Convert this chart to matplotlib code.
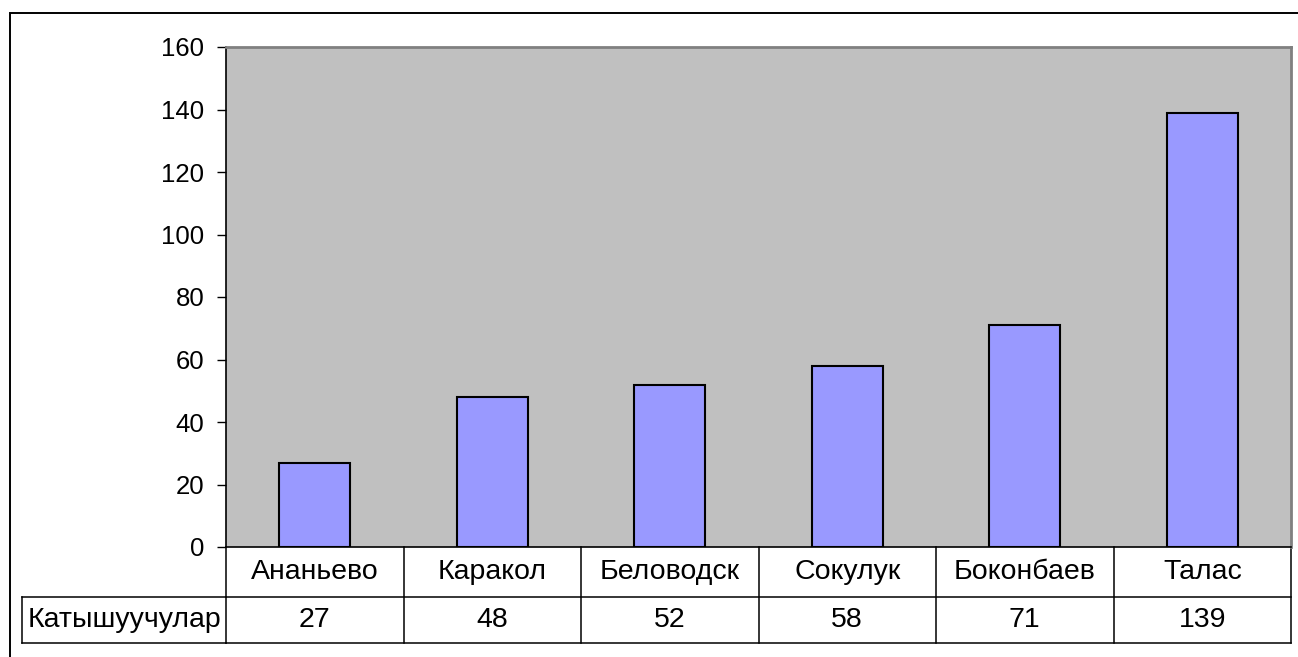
import numpy as np
import matplotlib
matplotlib.use('Agg')
from matplotlib import pyplot as plt
from matplotlib.patches import Rectangle
import matplotlib.transforms as mtransforms

plt.rcParams['font.family'] = ['Liberation Sans', 'DejaVu Sans']

towns = ['Ананьево', 'Каракол', 'Беловодск', 'Сокулук', 'Боконбаев', 'Талас']
participants = [27, 48, 52, 58, 71, 139]
series_name = 'Катышуучулар'

W, H = 1298, 657
fig = plt.figure(figsize=(W / 100, H / 100), dpi=100)

# outer chart border
fig.patches.append(Rectangle((10 / W, -0.05), 1.1, 1 - 13 / H + 0.05,
                             transform=fig.transFigure, fill=False,
                             edgecolor='black', linewidth=1.4))

ax = fig.add_axes([226 / W, 1 - 547 / H, 1065 / W, 500 / H])
ax.set_facecolor('#C0C0C0')

x = np.arange(len(towns))
ax.bar(x, participants, width=0.4, color='#9999FF', edgecolor='black', linewidth=1.5)
ax.set_xlim(-0.5, len(towns) - 0.5)
ax.set_ylim(0, 160)
ax.set_yticks(np.arange(0, 161, 20))
ax.tick_params(axis='y', labelsize=18.5, length=6.5, width=1, pad=9, color='black')
ax.set_xticks([])

for s in ['top', 'right']:
    ax.spines[s].set_color('#808080')
    ax.spines[s].set_linewidth(2)
ax.spines['left'].set_color('black')
ax.spines['bottom'].set_color('black')
ax.spines['left'].set_linewidth(1.2)
ax.spines['bottom'].set_linewidth(1.2)

# data table under the axis
trans = mtransforms.blended_transform_factory(ax.transData, fig.transFigure)
y0 = 1 - 547 / H
y1 = 1 - 597 / H
y2 = 1 - 643 / H
lw = 1.1
ax.plot([-0.5, len(towns) - 0.5], [y1, y1], transform=trans, color='black', lw=lw, clip_on=False)
ax.plot([-0.5, len(towns) - 0.5], [y2, y2], transform=trans, color='black', lw=lw, clip_on=False)
for i in range(len(towns) + 1):
    ax.plot([i - 0.5, i - 0.5], [y0, y2], transform=trans, color='black', lw=lw, clip_on=False)
# row label cell
fig.lines.append(plt.Line2D([22 / W, 226 / W], [y1, y1], transform=fig.transFigure, color='black', lw=lw))
fig.lines.append(plt.Line2D([22 / W, 226 / W], [y2, y2], transform=fig.transFigure, color='black', lw=lw))
fig.lines.append(plt.Line2D([22 / W, 22 / W], [y1, y2], transform=fig.transFigure, color='black', lw=lw))

fs = 20.5
for i, (t, v) in enumerate(zip(towns, participants)):
    ax.text(i, (y0 + y1) / 2, t, transform=trans, ha='center', va='center', fontsize=fs)
    ax.text(i, (y1 + y2) / 2, str(v), transform=trans, ha='center', va='center', fontsize=fs)
fig.text(124 / W, (y1 + y2) / 2, series_name, ha='center', va='center', fontsize=fs)

fig.savefig('out.png', dpi=100)
